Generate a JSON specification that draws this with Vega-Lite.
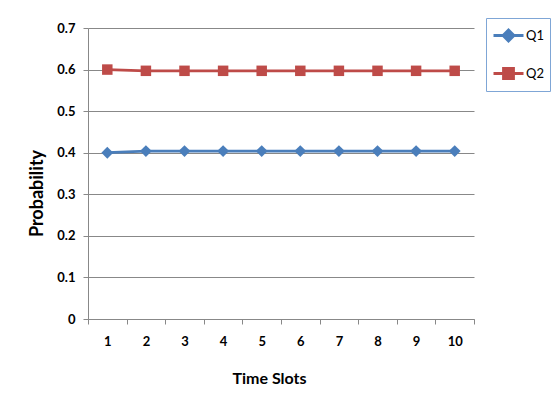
{
  "$schema": "https://vega.github.io/schema/vega-lite/v6.json",
  "width": 386,
  "height": 291,
  "autosize": {"type": "none"},
  "padding": {"left": 88, "top": 28, "right": 82, "bottom": 82},
  "background": "white",
  "data": {
    "values": [
      {"slot": 1, "series": "Q1", "p": 0.400},
      {"slot": 2, "series": "Q1", "p": 0.404},
      {"slot": 3, "series": "Q1", "p": 0.404},
      {"slot": 4, "series": "Q1", "p": 0.404},
      {"slot": 5, "series": "Q1", "p": 0.404},
      {"slot": 6, "series": "Q1", "p": 0.404},
      {"slot": 7, "series": "Q1", "p": 0.404},
      {"slot": 8, "series": "Q1", "p": 0.404},
      {"slot": 9, "series": "Q1", "p": 0.404},
      {"slot": 10, "series": "Q1", "p": 0.404},
      {"slot": 1, "series": "Q2", "p": 0.600},
      {"slot": 2, "series": "Q2", "p": 0.597},
      {"slot": 3, "series": "Q2", "p": 0.597},
      {"slot": 4, "series": "Q2", "p": 0.597},
      {"slot": 5, "series": "Q2", "p": 0.597},
      {"slot": 6, "series": "Q2", "p": 0.597},
      {"slot": 7, "series": "Q2", "p": 0.597},
      {"slot": 8, "series": "Q2", "p": 0.597},
      {"slot": 9, "series": "Q2", "p": 0.597},
      {"slot": 10, "series": "Q2", "p": 0.597}
    ]
  },
  "encoding": {
    "x": {
      "field": "slot",
      "type": "quantitative",
      "scale": {"domain": [0.5, 10.5], "nice": false, "zero": false},
      "axis": {
        "title": "Time Slots",
        "values": [0.5, 1, 1.5, 2, 2.5, 3, 3.5, 4, 4.5, 5, 5.5, 6, 6.5, 7, 7.5, 8, 8.5, 9, 9.5, 10, 10.5],
        "labelExpr": "datum.value % 1 === 0 ? datum.value : ''",
        "tickOpacity": {"condition": {"test": "datum.value % 1 !== 0", "value": 1}, "value": 0},
        "tickSize": 5,
        "labelPadding": 11,
        "grid": false,
        "titleX": 181,
        "titleY": 59,
        "titleBaseline": "middle",
        "titleFontSize": 16
      }
    },
    "y": {
      "field": "p",
      "type": "quantitative",
      "scale": {"domain": [0, 0.7], "nice": false},
      "axis": {
        "title": "Probability",
        "values": [0, 0.1, 0.2, 0.3, 0.4, 0.5, 0.6, 0.7],
        "format": ".1~f",
        "tickSize": 5,
        "labelPadding": 8,
        "titlePadding": 10,
        "titleY": 165,
        "grid": true,
        "titleFontSize": 18
      }
    },
    "color": {
      "field": "series",
      "type": "nominal",
      "scale": {"domain": ["Q1", "Q2"], "range": ["#4A7EBB", "#BE4B48"]},
      "legend": {
        "title": null,
        "orient": "none",
        "legendX": 398,
        "legendY": -10,
        "direction": "vertical",
        "padding": 6,
        "symbolSize": 400,
        "symbolOffset": 5,
        "labelOffset": 6,
        "rowPadding": 15,
        "strokeColor": "#7FA6D6",
        "fillColor": "white",
        "labelFont": "Lato",
        "labelFontSize": 13,
        "labelColor": "#000000",
        "encode": {
          "symbols": {
            "update": {
              "shape": {"signal": "datum.value === 'Q1' ? 'M-1.5,0H1.5M0,-0.55L0.55,0L0,0.55L-0.55,0Z' : 'M-1.5,0H1.5M-0.5,-0.5H0.5V0.5H-0.5Z'"},
              "fill": {"signal": "datum.value === 'Q1' ? '#4A7EBB' : '#BE4B48'"},
              "stroke": {"signal": "datum.value === 'Q1' ? '#4A7EBB' : '#BE4B48'"},
              "strokeWidth": {"value": 2.8},
              "opacity": {"value": 1},
              "fillOpacity": {"value": 1}
            }
          }
        }
      }
    }
  },
  "layer": [
    {
      "mark": {"type": "line", "strokeWidth": 2.8}
    },
    {
      "transform": [{"filter": "datum.series === 'Q1'"}],
      "mark": {"type": "point", "filled": true, "opacity": 1, "shape": "diamond", "size": 140}
    },
    {
      "transform": [{"filter": "datum.series === 'Q2'"}],
      "mark": {"type": "point", "filled": true, "opacity": 1, "shape": "square", "size": 110}
    }
  ],
  "config": {
    "view": {"stroke": null},
    "font": "Lato",
    "axis": {
      "domainColor": "#888888",
      "domainWidth": 1,
      "tickColor": "#888888",
      "tickWidth": 1,
      "gridColor": "#888888",
      "gridWidth": 1,
      "labelFont": "Lato",
      "labelFontSize": 13,
      "labelFontWeight": "bold",
      "labelColor": "#000000",
      "titleFont": "Lato",
      "titleFontSize": 14,
      "titleFontWeight": "bold",
      "titleColor": "#000000"
    }
  }
}
